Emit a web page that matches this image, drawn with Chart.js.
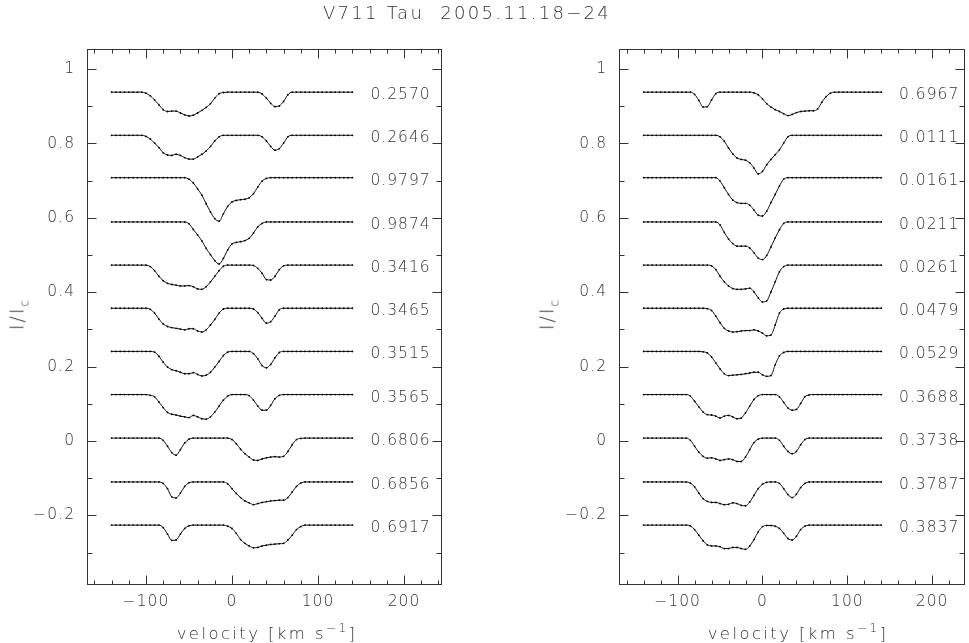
<!DOCTYPE html>
<html><head><meta charset="utf-8">
<script src="https://cdn.jsdelivr.net/npm/chart.js@4.4.0/dist/chart.umd.min.js"></script>
<style>
html,body{margin:0;padding:0;background:#fff;}
#wrap{position:relative;width:969px;height:643px;overflow:hidden;background:#fff;font-family:'DejaVu Sans',sans-serif;font-weight:200;color:#333;}
canvas{position:absolute;left:0;top:0;}
.t{position:absolute;white-space:nowrap;transform:translate(-50%,-50%);line-height:1;}
.t sup{font-size:12px;vertical-align:7px;}
.t sub{font-size:12px;vertical-align:-5px;}
.yl{transform:translate(-50%,-50%) rotate(-90deg);}
</style></head><body>
<div id="wrap">
<canvas id="cL" width="969" height="643"></canvas>
<canvas id="cR" width="969" height="643"></canvas>
<div class="t" id="title" style="left:467px;top:13px;font-size:18px;letter-spacing:2.3px;">V711 Tau&nbsp;&nbsp;2005.11.18−24</div>
<div class="t" style="left:267px;top:632px;font-size:16.5px;letter-spacing:2.4px;">velocity [km&nbsp;s<sup>−1</sup>]</div>
<div class="t" style="left:798px;top:632px;font-size:16.5px;letter-spacing:2.4px;">velocity [km&nbsp;s<sup>−1</sup>]</div>
<div class="t yl" style="left:19px;top:314px;font-size:19px;letter-spacing:2px;">I/I<sub>c</sub></div>
<div class="t yl" style="left:549px;top:314px;font-size:19px;letter-spacing:2px;">I/I<sub>c</sub></div>
</div>
<script>
// velocity grid (km/s)
const velocity = [-140,-135,-130,-125,-120,-115,-110,-105,-100,-95,-90,-85,-80,-75,-70,-65,-60,-55,-50,-45,-40,-35,-30,-25,-20,-15,-10,-5,0,5,10,15,20,25,30,35,40,45,50,55,60,65,70,75,80,85,90,95,100,105,110,115,120,125,130,135,140];

// vertical offsets of the stacked profiles (continuum level - 1), top to bottom
const offsets = [-0.062,-0.178,-0.292,-0.411,-0.527,-0.643,-0.759,-0.875,-0.992,-1.110,-1.226];

// phase labels
const phasesL = ['0.2570','0.2646','0.9797','0.9874','0.3416','0.3465','0.3515','0.3565','0.6806','0.6856','0.6917'];
const phasesR = ['0.6967','0.0111','0.0161','0.0211','0.0261','0.0479','0.0529','0.3688','0.3738','0.3787','0.3837'];

// axis ticks
const xMajorTicks = [-100,0,100,200];
const xMajorLabels = ['−100','0','100','200'];
const xMinorTicks = [-160,-140,-120,-80,-60,-40,-20,20,40,60,80,120,140,160,180,220,240];
const yMajorTicks = [-0.2,0,0.2,0.4,0.6,0.8,1];
const yMajorLabels = ['−0.2','0','0.2','0.4','0.6','0.8','1'];
const yMinorTicks = [-0.3,-0.1,0.1,0.3,0.5,0.7,0.9];

// normalized profiles I/Ic, left panel
const ph2570 = [1,1,1,1,1,1,1,1,.997,.990,.979,.966,.953,.948,.949,.949,.944,.939,.936,.938,.944,.951,.959,.969,.984,.996,.999,1,1,1,1,1,1,1,1,.995,.984,.970,.961,.963,.975,.993,1,1,1,1,1,1,1,1,1,1,1,1,1,1,1];
const ph2646 = [1,1,1,1,1,1,1,1,.997,.990,.979,.967,.953,.947,.946,.949,.946,.940,.936,.936,.942,.949,.958,.970,.985,.996,1,1,1,1,1,1,1,1,1,.996,.985,.970,.960,.964,.979,.996,1,1,1,1,1,1,1,1,1,1,1,1,1,1,1];
const ph9797 = [1,1,1,1,1,1,1,1,1,1,1,1,1,1,1,1,1,1,.996,.986,.970,.953,.930,.908,.890,.883,.903,.923,.935,.939,.941,.942,.946,.957,.975,.991,.998,1,1,1,1,1,1,1,1,1,1,1,1,1,1,1,1,1,1,1,1];
const ph9874 = [1,1,1,1,1,1,1,1,1,1,1,1,1,1,1,1,1,1,.995,.980,.965,.949,.929,.912,.896,.887,.902,.925,.941,.945,.947,.950,.956,.970,.987,.996,1,1,1,1,1,1,1,1,1,1,1,1,1,1,1,1,1,1,1,1,1];
const ph3416 = [1,1,1,1,1,1,1,1,1,.996,.985,.970,.958,.951,.948,.946,.944,.944,.945,.942,.936,.935,.942,.955,.970,.985,.997,1,1,1,1,1,1,.999,.991,.978,.961,.960,.970,.988,.998,1,1,1,1,1,1,1,1,1,1,1,1,1,1,1,1];
const ph3465 = [1,1,1,1,1,1,1,1,1,.997,.987,.971,.958,.951,.948,.946,.944,.942,.945,.945,.939,.936,.942,.955,.970,.987,.998,1,1,1,1,1,1,.998,.988,.973,.960,.964,.979,.996,1,1,1,1,1,1,1,1,1,1,1,1,1,1,1,1,1];
const ph3515 = [1,1,1,1,1,1,1,1,1,1,.998,.987,.971,.958,.951,.948,.944,.940,.940,.943,.938,.934,.936,.944,.958,.973,.989,.998,1,1,1,1,1,.994,.980,.962,.956,.965,.983,.997,1,1,1,1,1,1,1,1,1,1,1,1,1,1,1,1,1];
const ph3565 = [1,1,1,1,1,1,1,1,1,.998,.994,.980,.965,.952,.947,.945,.942,.940,.938,.944,.940,.935,.934,.940,.953,.969,.985,.996,1,1,1,1,.997,.985,.969,.958,.958,.971,.989,.998,1,1,1,1,1,1,1,1,1,1,1,1,1,1,1,1,1];
const ph6806 = [1,1,1,1,1,1,1,1,1,1,1,1,.994,.978,.961,.954,.969,.987,.997,1,1,1,1,1,1,1,1,1,.996,.985,.970,.958,.949,.941,.940,.944,.947,.949,.950,.949,.951,.964,.982,.996,.999,1,1,1,1,1,1,1,1,1,1,1,1];
const ph6856 = [1,1,1,1,1,1,1,1,1,1,1,1,.996,.982,.960,.957,.970,.988,.998,1,1,1,1,1,1,1,1,.995,.982,.969,.958,.949,.944,.939,.942,.945,.947,.949,.950,.951,.951,.958,.973,.988,.997,1,1,1,1,1,1,1,1,1,1,1,1];
const ph6917 = [1,1,1,1,1,1,1,1,1,1,1,1,.993,.976,.959,.960,.976,.991,.998,1,1,1,1,1,1,1,1,.997,.991,.978,.961,.951,.944,.939,.940,.944,.946,.948,.949,.950,.951,.960,.973,.988,.996,1,1,1,1,1,1,1,1,1,1,1,1];

// normalized profiles I/Ic, right panel
const ph6967 = [1,1,1,1,1,1,1,1,1,1,1,1,.994,.978,.960,.961,.979,.996,1,1,1,1,1,1,1,1,.998,.993,.982,.969,.960,.953,.948,.942,.937,.940,.945,.948,.949,.950,.950,.955,.973,.988,.997,1,1,1,1,1,1,1,1,1,1,1,1];
const ph0111 = [1,1,1,1,1,1,1,1,1,1,1,1,1,1,1,1,1,1,.996,.984,.966,.950,.939,.935,.933,.926,.912,.896,.903,.921,.935,.948,.961,.979,.996,1,1,1,1,1,1,1,1,1,1,1,1,1,1,1,1,1,1,1,1,1,1];
const ph0161 = [1,1,1,1,1,1,1,1,1,1,1,1,1,1,1,1,1,1,.991,.973,.955,.940,.933,.931,.931,.926,.913,.899,.897,.910,.933,.955,.978,.996,1,1,1,1,1,1,1,1,1,1,1,1,1,1,1,1,1,1,1,1,1,1,1];
const ph0211 = [1,1,1,1,1,1,1,1,1,1,1,1,1,1,1,1,1,1,.992,.972,.954,.942,.935,.935,.935,.930,.917,.903,.899,.910,.933,.957,.979,.996,1,1,1,1,1,1,1,1,1,1,1,1,1,1,1,1,1,1,1,1,1,1,1];
const ph0261 = [1,1,1,1,1,1,1,1,1,1,1,1,1,1,1,1,.998,.988,.970,.955,.944,.937,.935,.935,.936,.938,.928,.912,.901,.904,.928,.955,.982,.996,1,1,1,1,1,1,1,1,1,1,1,1,1,1,1,1,1,1,1,1,1,1,1];
const ph0479 = [1,1,1,1,1,1,1,1,1,1,1,1,1,1,1,.999,.994,.979,.961,.946,.939,.936,.937,.939,.940,.940,.942,.939,.933,.926,.928,.955,.987,.998,1,1,1,1,1,1,1,1,1,1,1,1,1,1,1,1,1,1,1,1,1,1,1];
const ph0529 = [1,1,1,1,1,1,1,1,1,1,1,1,1,1,.999,.996,.985,.969,.953,.940,.935,.936,.937,.938,.940,.942,.944,.944,.937,.933,.935,.964,.988,.997,1,1,1,1,1,1,1,1,1,1,1,1,1,1,1,1,1,1,1,1,1,1,1];
const ph3688 = [1,1,1,1,1,1,1,1,1,1,1,.996,.982,.967,.953,.946,.945,.942,.937,.942,.944,.940,.935,.937,.951,.969,.987,.997,1,1,1,1,.994,.979,.964,.958,.960,.976,.994,.999,1,1,1,1,1,1,1,1,1,1,1,1,1,1,1,1,1];
const ph3738 = [1,1,1,1,1,1,1,1,1,1,1,.994,.978,.962,.951,.946,.947,.944,.940,.942,.944,.942,.937,.937,.949,.969,.988,.997,1,1,1,1,.994,.978,.964,.958,.964,.982,.996,1,1,1,1,1,1,1,1,1,1,1,1,1,1,1,1,1,1];
const ph3787 = [1,1,1,1,1,1,1,1,1,1,1,.997,.987,.970,.955,.948,.945,.945,.942,.939,.940,.944,.942,.937,.936,.946,.964,.982,.994,.999,1,1,.996,.982,.966,.958,.967,.985,.996,1,1,1,1,1,1,1,1,1,1,1,1,1,1,1,1,1,1];
const ph3837 = [1,1,1,1,1,1,1,1,1,1,1,.998,.988,.973,.958,.947,.944,.944,.942,.937,.937,.940,.940,.937,.935,.944,.961,.982,.996,.999,.999,.997,.991,.978,.964,.960,.970,.988,.997,1,1,1,1,1,1,1,1,1,1,1,1,1,1,1,1,1,1];

const profilesL = [ph2570,ph2646,ph9797,ph9874,ph3416,ph3465,ph3515,ph3565,ph6806,ph6856,ph6917];
const profilesR = [ph6967,ph0111,ph0161,ph0211,ph0261,ph0479,ph0529,ph3688,ph3738,ph3787,ph3837];

const FONT = "'DejaVu Sans', sans-serif";
const TXT = '#333';

function framePlugin(phases){
  return {
    id:'frame',
    beforeDraw(chart){ chart.ctx.letterSpacing = '1px'; },
    afterDraw(chart){
      const {ctx, chartArea:a, scales:{x, y}} = chart;
      ctx.save();
      ctx.strokeStyle = '#333'; ctx.lineWidth = 1;
      const L = Math.round(a.left)+0.5, R = Math.round(a.right)-0.5, T = Math.round(a.top)+0.5, B = Math.round(a.bottom)-0.5;
      ctx.strokeRect(L, T, R-L, B-T);
      ctx.beginPath();
      const tx = (v, len) => { const p = Math.round(x.getPixelForValue(v))+0.5; if (p<L||p>R) return; ctx.moveTo(p,B); ctx.lineTo(p,B-len); ctx.moveTo(p,T); ctx.lineTo(p,T+len); };
      const ty = (v, len) => { const p = Math.round(y.getPixelForValue(v))+0.5; ctx.moveTo(L,p); ctx.lineTo(L+len,p); ctx.moveTo(R,p); ctx.lineTo(R-len,p); };
      xMajorTicks.forEach(v => tx(v, 9)); xMinorTicks.forEach(v => tx(v, 4));
      yMajorTicks.forEach(v => ty(v, 9)); yMinorTicks.forEach(v => ty(v, 5));
      ctx.stroke();
      ctx.font = '200 15.5px ' + FONT; ctx.fillStyle = TXT; ctx.textAlign = 'left'; ctx.textBaseline = 'middle';
      ctx.letterSpacing = '1px';
      phases.forEach((t, k) => ctx.fillText(t, x.getPixelForValue(161), y.getPixelForValue(1 + offsets[k]) + 3));
      ctx.restore();
    }
  };
}

function makePanel(id, profiles, phases, xMin, xMax, padLeft, padRight){
  const datasets = profiles.map((p, k) => ({
    data: velocity.map((v, i) => ({x: v, y: p[i] + offsets[k]})),
    borderColor: '#111', borderWidth: 1,
    pointRadius: 0.9, pointBackgroundColor: '#000', pointBorderWidth: 0,
    cubicInterpolationMode: 'monotone', fill: false
  }));
  new Chart(document.getElementById(id), {
    type: 'line',
    data: {datasets},
    options: {
      responsive: false, animation: false, devicePixelRatio: 1,
      layout: {padding: {left: padLeft, right: padRight, top: 49, bottom: 0}},
      plugins: {legend: {display: false}, tooltip: {enabled: false}, title: {display: false}},
      scales: {
        x: {
          type: 'linear', position: 'bottom', min: xMin, max: xMax,
          grid: {display: false, drawTicks: false}, border: {display: false},
          afterBuildTicks: s => { s.ticks = xMajorTicks.map(v => ({value: v})); },
          afterFit: s => { s.height = 58; },
          ticks: {padding: 8, color: TXT, font: {family: FONT, size: 15.5, weight: 200}, maxRotation: 0, autoSkip: false,
                  callback: (v, i) => xMajorLabels[i]}
        },
        y: {
          type: 'linear', position: 'left', min: -0.387, max: 1.054,
          grid: {display: false, drawTicks: false}, border: {display: false},
          afterBuildTicks: s => { s.ticks = yMajorTicks.map(v => ({value: v})); },
          afterFit: s => { s.width = 87; },
          ticks: {padding: 12, color: TXT, font: {family: FONT, size: 15.5, weight: 200}, autoSkip: false,
                  callback: (v, i) => yMajorLabels[i]}
        }
      }
    },
    plugins: [framePlugin(phases)]
  });
}

makePanel('cL', profilesL, phasesL, -168.6, 244.2, 0, 527);
makePanel('cR', profilesR, phasesR, -169.1, 238.7, 532, 2);
</script>
</body></html>
